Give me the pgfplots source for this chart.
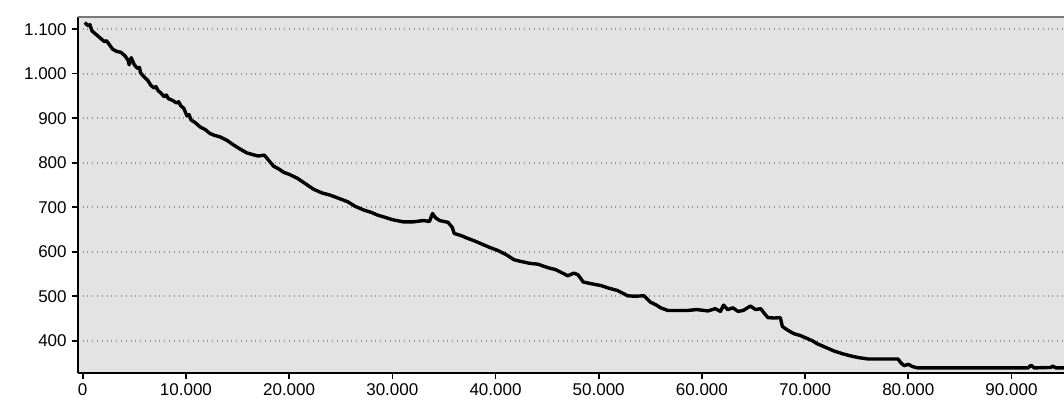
\documentclass[border=0pt]{standalone}
\usepackage{pgfplots}
\pgfplotsset{compat=1.18}
\usepackage{fontspec}
\setmainfont{Liberation Sans}
\definecolor{bgc}{RGB}{227,227,227}
\definecolor{gridc}{RGB}{150,150,150}
\definecolor{topc}{RGB}{120,120,120}
\pgfplotstableread{
x y
200 1115
500 1108
700 1110
900 1096
1300 1088
1700 1080
2100 1072
2300 1074
2500 1068
2900 1055
3300 1050
3700 1048
4100 1040
4400 1030
4500 1020
4700 1036
5000 1020
5300 1012
5500 1014
5600 1002
5900 994
6300 985
6600 974
6900 968
7100 971
7300 962
7600 956
7900 948
8100 952
8300 944
8700 940
9100 934
9300 937
9500 928
9800 922
10100 905
10300 908
10500 896
10900 890
11400 880
11900 874
12300 866
12700 862
13300 858
14000 850
14600 840
15300 830
15900 822
16500 818
17000 815
17600 817
18000 806
18500 792
19000 786
19500 778
20000 774
20800 765
21500 754
22400 740
23200 732
24000 727
24800 720
25700 712
26400 702
27200 694
28000 688
28600 682
29200 678
30000 672
31100 667
32000 667
33000 670
33600 668
33900 686
34200 676
34600 670
35400 666
35800 655
36000 641
36700 636
37300 630
38000 624
38600 618
39400 610
40200 603
41000 594
41800 582
42500 578
43300 574
44100 572
45100 564
45800 560
46500 552
47000 546
47600 552
48000 548
48500 532
49300 528
50200 524
51000 518
51800 513
52400 506
52800 501
53500 500
54400 501
55000 487
55600 480
56000 474
56700 468
57500 468
58600 468
59500 470
60600 467
61300 472
61800 466
62100 480
62500 470
63000 474
63500 466
64000 468
64700 478
65200 470
65700 472
66100 460
66400 452
67000 451
67600 452
67800 432
68300 424
68900 416
69500 412
69900 408
70200 405
70700 400
71200 393
72000 385
72800 377
73600 371
74400 366
75200 362
76100 359
77500 359
79000 359
79300 350
79600 344
80000 347
80400 342
80900 339
85000 339
91600 339
91900 345
92200 339
93800 340
94000 343
94300 339
95200 339
}\datatable
\begin{document}
\begin{tikzpicture}
\begin{axis}[
  name=ax,
  scale only axis,
  width=493pt, height=178pt,
  xmin=-485, xmax=95090,
  ymin=328, ymax=1128,
  axis background/.style={fill=bgc},
  axis x line*=bottom, axis y line*=left,
  every outer x axis line/.append style={-, line width=1.1pt, black},
  every outer y axis line/.append style={-, line width=1.1pt, black},
  xtick={0,10000,...,90000},
  ytick={400,500,...,1100},
  scaled x ticks=false, scaled y ticks=false,
  /pgf/number format/.cd, 1000 sep={.}, assume math mode=true,
  /pgfplots/.cd,
  tick align=outside,
  major tick length=3pt,
  tick style={black, line width=0.8pt},
  ymajorgrids,
  major grid style={dotted, gridc, line width=0.9pt},
  tick label style={font=\fontsize{8.5}{9}\selectfont},
  yticklabel style={xshift=1pt},
  xticklabel style={yshift=1pt},
  clip=true,
  after end axis/.code={\draw[topc, line width=0.9pt] (rel axis cs:0,1) -- (rel axis cs:1,1);},
]
\addplot[black, line width=1.7pt, line join=round] table[x=x,y=y] {\datatable};
\end{axis}
\pgfresetboundingbox
\path ([xshift=-38.85pt,yshift=-15.15pt]ax.south west) rectangle ([yshift=8.35pt]ax.north east);
\end{tikzpicture}
\end{document}
